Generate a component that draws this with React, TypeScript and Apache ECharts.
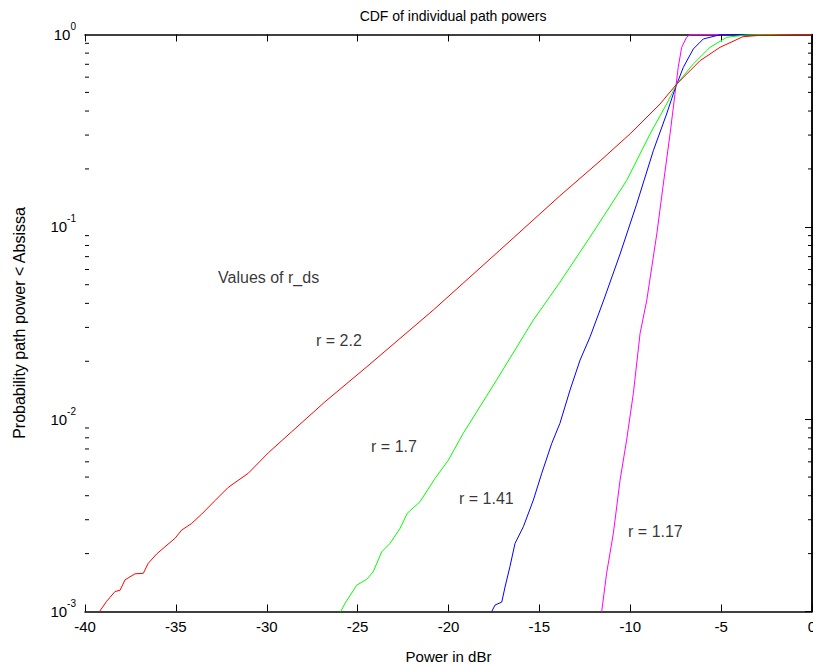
import React, { useEffect, useRef } from "react";
import * as echarts from "echarts";

// ---- Data ----
const r22Power = [-39.2, -38.81, -38.35, -38.07, -37.8, -37.25, -36.79, -36.52, -36.06, -35.6, -35.05, -34.68, -34.13, -33.58, -32.85, -32.12, -31.02, -29.91, -28.63, -26.8, -24.5, -20.84, -17.17, -13.87, -11.66, -10.0, -8.36, -7.44, -6.16, -5.06, -3.8, -2.86, -1.2, 0];
const r22Prob = [0.001, 0.00113, 0.00127, 0.00129, 0.00146, 0.00157, 0.00158, 0.00178, 0.00199, 0.00217, 0.0024, 0.00265, 0.00287, 0.00321, 0.00377, 0.00442, 0.00523, 0.00669, 0.0086, 0.0123, 0.0187, 0.0369, 0.0757, 0.145, 0.22, 0.305, 0.435, 0.553, 0.731, 0.858, 0.974, 0.99, 0.998, 1];

const r17Power = [-25.93, -25.7, -25.05, -24.5, -24.14, -23.68, -23.22, -22.67, -22.27, -21.57, -20.74, -20.01, -19.19, -18.45, -17.35, -15.33, -14.42, -13.87, -12.03, -10.2, -8.91, -8.0, -7.44, -6.53, -5.61, -4.69, -3.59, -2.5, 0];
const r17Prob = [0.001, 0.0011, 0.00137, 0.00147, 0.00161, 0.00204, 0.00226, 0.0027, 0.00324, 0.00372, 0.00492, 0.00612, 0.00844, 0.0109, 0.016, 0.0328, 0.0434, 0.0515, 0.094, 0.174, 0.304, 0.435, 0.553, 0.703, 0.858, 0.967, 0.995, 1, 1];

const r141Power = [-17.62, -17.44, -17.07, -16.89, -16.62, -16.34, -15.88, -15.33, -14.87, -14.32, -13.87, -13.31, -12.76, -12.21, -11.48, -10.56, -9.65, -8.73, -8.0, -7.54, -7.08, -6.53, -5.98, -5.06, -4.0, 0];
const r141Prob = [0.001, 0.00108, 0.00112, 0.00134, 0.00171, 0.00226, 0.00276, 0.0038, 0.00523, 0.00748, 0.00951, 0.0142, 0.0203, 0.0268, 0.0411, 0.0722, 0.131, 0.249, 0.386, 0.521, 0.675, 0.841, 0.948, 0.997, 1, 1];

const r117Power = [-11.57, -11.3, -10.93, -10.56, -10.2, -9.83, -9.46, -9.09, -8.54, -8.18, -7.81, -7.54, -7.36, -7.17, -6.9, -6.72, -6.0, 0];
const r117Prob = [0.001, 0.00158, 0.00255, 0.00482, 0.00778, 0.0136, 0.0279, 0.0416, 0.0918, 0.167, 0.304, 0.49, 0.675, 0.858, 0.967, 0.997, 1, 1];

const annotationTexts = ["Values of r_ds", "r = 2.2", "r = 1.7", "r = 1.41", "r = 1.17"];
const annotationPower = [-32.68, -27.29, -24.26, -19.42, -10.12];
const annotationProb = [0.0548, 0.0255, 0.00725, 0.00389, 0.00262];

const xMin = -40;
const xMax = 0;
const xInterval = 5;
const yMin = 0.001;
const yMax = 1;

const FONT = "'Liberation Sans', Arial, Helvetica, sans-serif";

function zip(xs: number[], ys: number[]) {
  return xs.map((x, i) => [x, ys[i]]);
}

const minorTickValues: number[] = [];
[0.001, 0.01, 0.1].forEach((d) => {
  for (let k = 2; k <= 9; k++) minorTickValues.push(Number((d * k).toPrecision(3)));
});

export default function App() {
  const ref = useRef<HTMLDivElement>(null);
  useEffect(() => {
    if (!ref.current) return;
    const chart = echarts.init(ref.current, undefined, { renderer: "svg" });
    const axisLine = { lineStyle: { color: "#000", width: 1.5 } };
    const tick = { inside: true, length: 7, lineStyle: { color: "#000", width: 1 } };
    const lineSeries = (name: string, xs: number[], ys: number[], color: string) => ({
      name,
      type: "line",
      data: zip(xs, ys),
      showSymbol: false,
      symbol: "none",
      lineStyle: { color, width: 1 },
      xAxisIndex: 0,
      yAxisIndex: 0,
      z: 3,
      silent: true,
    });
    chart.setOption({
      animation: false,
      backgroundColor: "#fff",
      textStyle: { fontFamily: FONT },
      title: {
        text: "CDF of individual path powers",
        left: 448,
        top: 4,
        textAlign: "center",
        textStyle: { fontFamily: FONT, fontSize: 14, fontWeight: "normal", color: "#000" },
      },
      grid: { left: 85, right: 1, top: 34.5, bottom: 56.5, outerBoundsMode: "none" },
      xAxis: [
        {
          type: "value",
          min: xMin,
          max: xMax,
          interval: xInterval,
          position: "bottom",
          name: "Power in dBr",
          nameLocation: "middle",
          nameGap: 37,
          nameTextStyle: { fontFamily: FONT, fontSize: 15, color: "#000" },
          axisLine,
          axisTick: tick,
          axisLabel: { color: "#000", fontSize: 15, fontFamily: FONT, margin: 7 },
          splitLine: { show: false },
        },
        {
          type: "value",
          min: xMin,
          max: xMax,
          interval: xInterval,
          position: "top",
          axisLine,
          axisTick: tick,
          axisLabel: { show: false },
          splitLine: { show: false },
        },
      ],
      yAxis: [
        {
          type: "log",
          logBase: 10,
          min: yMin,
          max: yMax,
          position: "left",
          name: "Probability path power < Absissa",
          nameLocation: "middle",
          nameRotate: 90,
          nameGap: 58,
          nameTextStyle: { fontFamily: FONT, fontSize: 16, color: "#000" },
          axisLine,
          axisTick: tick,
          axisLabel: {
            color: "#000",
            margin: 9,
            formatter: (v: number) => `{b|10}{s|${Math.round(Math.log10(v))}}`,
            rich: {
              b: { fontSize: 15, fontFamily: FONT, color: "#000" },
              s: { fontSize: 10, fontFamily: FONT, color: "#000", padding: [0, 0, 16, 0] },
            },
          },
          splitLine: { show: false },
        },
        {
          type: "log",
          logBase: 10,
          min: yMin,
          max: yMax,
          position: "right",
          axisLine,
          axisTick: tick,
          axisLabel: { show: false },
          splitLine: { show: false },
        },
      ],
      series: [
        lineSeries("r = 1.17", r117Power, r117Prob, "#ff00ff"),
        lineSeries("r = 1.41", r141Power, r141Prob, "#0000ff"),
        lineSeries("r = 1.7", r17Power, r17Prob, "#00ff00"),
        lineSeries("r = 2.2", r22Power, r22Prob, "#ff0000"),
        {
          type: "custom",
          xAxisIndex: 0,
          yAxisIndex: 0,
          silent: true,
          clip: false,
          data: minorTickValues.map((v) => [xMin, v]),
          renderItem: (params: any, api: any) => {
            const v = api.value(1);
            const l = api.coord([xMin, v]);
            const r = api.coord([xMax, v]);
            return {
              type: "group",
              children: [
                { type: "line", shape: { x1: l[0], y1: l[1], x2: l[0] + 4, y2: l[1] }, style: { stroke: "#000", lineWidth: 1 } },
                { type: "line", shape: { x1: r[0], y1: r[1], x2: r[0] - 4, y2: r[1] }, style: { stroke: "#000", lineWidth: 1 } },
              ],
            };
          },
        },
        {
          type: "scatter",
          xAxisIndex: 0,
          yAxisIndex: 0,
          silent: true,
          symbolSize: 0,
          data: annotationTexts.map((t, i) => ({ name: t, value: [annotationPower[i], annotationProb[i]] })),
          label: {
            show: true,
            position: "right",
            distance: 0,
            formatter: (p: any) => p.name,
            color: "#000",
            fontSize: 16,
            fontFamily: FONT,
          },
        },
      ],
    });
    return () => chart.dispose();
  }, []);
  return (
    <div
      ref={ref}
      style={{ position: "fixed", left: 0, top: 0, width: 813, height: 668, background: "#fff" }}
    />
  );
}
